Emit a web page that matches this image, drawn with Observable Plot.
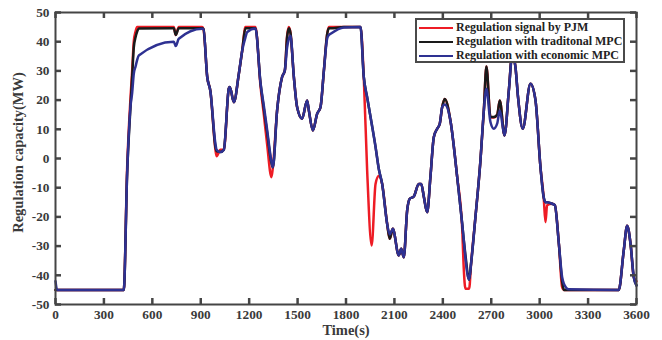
<!DOCTYPE html>
<html>
<head>
<meta charset="utf-8">
<script src="https://cdn.jsdelivr.net/npm/d3@7"></script>
<script src="https://cdn.jsdelivr.net/npm/@observablehq/plot@0.6"></script>
<style>
  html, body { margin: 0; padding: 0; background: #fff; }
  #wrap { position: relative; width: 662px; height: 340px; font-family: "Liberation Serif", "Times New Roman", serif; }
  #legend { position: absolute; left: 415px; top: 18px; width: 206px; height: 41px; border: 2px solid #4a4a4a; background: #fff; }
  .row { position: absolute; left: 0; height: 14px; font-size: 12px; font-weight: bold; color: #222; white-space: nowrap; }
  .row .sw { position: absolute; left: 2px; top: 6px; width: 34px; height: 0; border-top: 2.5px solid; }
  .row .lb { position: absolute; left: 39px; top: -1px; line-height: 14px; }
</style>
</head>
<body>
<div id="wrap"></div>
<script>
// ---- data ----
const time = [0,10,423,444,465,475,485,496,506,516,733,745,764,909,917,940,960,991,998,1022,1043,1074,1080,1105,1136,1157,1177,1188,1239,1270,1291,1311,1338,1347,1373,1404,1421,1435,1446,1456,1477,1497,1528,1559,1570,1595,1621,1642,1663,1683,1694,1704,1787,1890,1910,1931,1959,1983,2003,2024,2055,2071,2090,2127,2142,2158,2179,2195,2220,2251,2266,2282,2303,2323,2344,2365,2381,2396,2412,2447,2489,2520,2530,2540,2563,2575,2602,2633,2654,2670,2695,2716,2737,2753,2782,2809,2830,2850,2866,2895,2943,2974,3005,3025,3036,3046,3077,3094,3119,3139,3150,3180,3490,3521,3542,3563,3583,3600];

const pjm = [-45,-45,-45,-3,21,30,40,43.5,45,45,45,42.3,45,45,44.3,28,23,3,0.8,3,3,24,24.5,19.3,29,37,45,45,45,25,15,5,-6.4,-3,16.4,27.9,30.1,42,45,43,27.9,17.6,13.6,19.9,16.4,9.6,15.3,17.6,30.1,42.5,45,45,45,45,28,-4,-29.8,-8.7,-6,-8.7,-22.4,-27.5,-24.1,-33.2,-30.9,-33.8,-17.8,-13.8,-13,-8.7,-8.7,-13,-18.4,-6.4,7.3,10.2,11.9,17.6,20.4,13,-6.4,-24,-38,-44.6,-44.6,-36,-20.1,-0.7,16.4,31.5,14.2,14,15,19.9,7.9,23.3,36,31.3,21,10.2,25.6,20,-3,-13.3,-21.8,-16,-15.5,-16,-29.2,-44,-45,-45,-45,-31.5,-23,-29.2,-40.6,-42];

const traditional = [-45,-45,-45,-5,18,28,38,41.5,43.5,44.5,44.6,42.3,44.6,44.6,44.3,28,23,4,2.5,2.2,3,24,24.5,19.3,29,37,44.6,44.6,44.6,26,17,9,-1.5,-3,16.4,27.9,30.1,41.5,44.6,43,27.9,17.6,13.6,19.9,16.4,9.6,15.3,17.6,30.1,42.5,44.6,44.6,45,45,28,21,12,4,-3.5,-8.7,-22.4,-27.5,-24.1,-33.2,-30.9,-33.8,-17.8,-13.8,-13,-8.7,-8.7,-13,-18.4,-6.4,7.3,10.2,11.9,17.6,20.4,13,-6.4,-22.4,-28,-33,-41.5,-36,-20.1,-0.7,16.4,31.5,14.2,14.2,15,19.9,7.9,23.3,36,31.3,21,10.2,25.6,20,-3,-13.3,-15,-15,-15.5,-16,-29.2,-42,-45,-45,-45,-31.5,-23,-29.2,-40.6,-43.5];

const economic = [-42,-45,-45,-5,18,22.5,29,31.5,33.8,35.3,40,38.5,41,44.4,44.3,28,23,5,3,2.2,3,24,24.5,19.3,29,37,41.5,43.3,44.5,26,18,10,-1,-3,16.4,27.9,30.1,38,41,42,27.9,17.6,13.6,19.9,16.4,9.6,15.3,17.6,30.1,41,42.3,42.7,44.9,45,28,21,12,4,-3.5,-8.7,-22.4,-26,-24.1,-33.2,-30.9,-33.8,-17.8,-13.8,-13,-8.7,-8.7,-13,-18.4,-6.4,7.3,10.2,11.9,17.6,18.5,13,-6.4,-22.4,-28,-34,-41.5,-36,-20.1,-0.7,16.4,23.9,12.5,10.2,12,16.4,7.9,23.3,35,31.3,21,10.2,25.6,20,-3,-13.3,-15,-15,-15.5,-16,-29.2,-40.6,-42.9,-44.8,-45,-31.5,-23,-29.2,-40.6,-43.5];

const seriesNames = ["Regulation signal by PJM", "Regulation with traditonal MPC", "Regulation with economic MPC"];
const seriesColors = ["#ee1c25", "#1a1a1a", "#2e3192"];
const xTicks = [0,300,600,900,1200,1500,1800,2100,2400,2700,3000,3300,3600];
const yTicks = [-50,-40,-30,-20,-10,0,10,20,30,40,50];

// ---- build ----
const seriesValues = [pjm, traditional, economic];
const rows = seriesValues.map((vals, i) => time.map((t, j) => ({t, v: vals[j], s: seriesNames[i]})));

const W = 662, H = 340, mL = 55, mR = 26, mT = 12, mB = 36;
const pw = W - mL - mR, ph = H - mT - mB, tk = 6;
const frameColor = "#454545", textColor = "#3a3a3a";

const chart = Plot.plot({
  width: W, height: H,
  marginLeft: mL, marginRight: mR, marginTop: mT, marginBottom: mB,
  style: {fontFamily: "'Liberation Serif', 'Times New Roman', serif", background: "#fff", overflow: "visible"},
  x: {domain: [0, 3600]},
  y: {domain: [-50, 50]},
  marks: [
    ...rows.map((r, i) => Plot.line(r, {x: "t", y: "v", stroke: seriesColors[i], strokeWidth: 2.5, curve: "monotone-x", strokeLinejoin: "round"})),
    Plot.tickX(xTicks, {x: d => d, insetTop: ph - tk, stroke: frameColor, strokeWidth: 2.5}),
    Plot.tickX(xTicks, {x: d => d, insetBottom: ph - tk, stroke: frameColor, strokeWidth: 2.5}),
    Plot.tickY(yTicks, {y: d => d, insetRight: pw - tk, stroke: frameColor, strokeWidth: 2.5}),
    Plot.tickY(yTicks, {y: d => d, insetLeft: pw - tk, stroke: frameColor, strokeWidth: 2.5}),
    Plot.frame({stroke: frameColor, strokeWidth: 2}),
    Plot.axisX(xTicks, {tickSize: 0, tickPadding: 5, tickFormat: d => String(d), fontSize: 13.3, fontWeight: "bold", fill: textColor, label: null}),
    Plot.axisY(yTicks, {tickSize: 0, tickPadding: 6, tickFormat: d => String(d), fontSize: 13.3, fontWeight: "bold", fill: textColor, label: null}),
    Plot.text(["Time(s)"], {frameAnchor: "bottom", dy: 26, fontSize: 14.5, fontWeight: "bold", fill: textColor, lineAnchor: "middle"}),
    Plot.text(["Regulation capacity(MW)"], {frameAnchor: "left", dx: -37, dy: -6, rotate: -90, fontSize: 14.5, fontWeight: "bold", fill: textColor, lineAnchor: "middle", textAnchor: "middle"})
  ]
});

const wrap = document.getElementById("wrap");
wrap.appendChild(chart);

const legend = document.createElement("div");
legend.id = "legend";
seriesNames.forEach((name, i) => {
  const row = document.createElement("div");
  row.className = "row";
  row.style.top = (1 + i * 14.2) + "px";
  row.innerHTML = `<span class="sw" style="border-color:${seriesColors[i]}"></span><span class="lb">${name}</span>`;
  legend.appendChild(row);
});
wrap.appendChild(legend);
</script>
</body>
</html>
